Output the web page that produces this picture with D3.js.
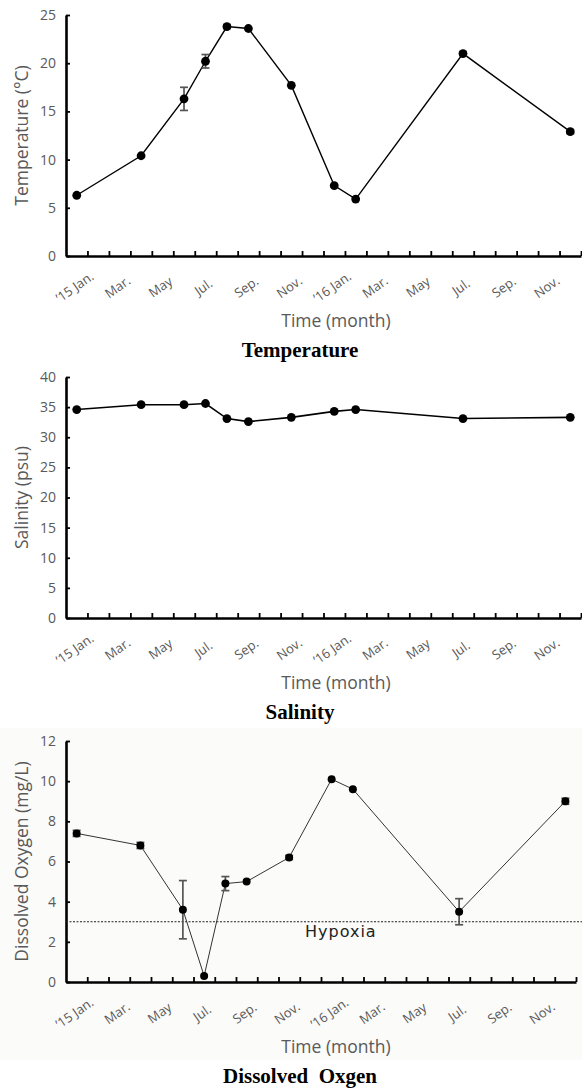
<!DOCTYPE html>
<html>
<head>
<meta charset="utf-8">
<script src="https://d3js.org/d3.v7.min.js"></script>
<style>
  body { margin: 0; background: #fff; }
  svg text { font-family: "Open Sans", sans-serif; }
</style>
</head>
<body>
<svg id="chart" width="582" height="1090"></svg>
<script>

// sampling months (one point per cruise) and axis labels
var sampleMonths = ["2015-01","2015-04","2015-06","2015-07","2015-08","2015-09","2015-11","2016-01","2016-02","2016-07","2016-12"];
var monthLabels = ["\u201915 Jan.","Mar.","May","Jul.","Sep.","Nov.","\u201916 Jan.","Mar.","May","Jul.","Sep.","Nov."];

var temperature   = [6.3, 10.4, 16.3, 20.2, 23.8, 23.6, 17.7, 7.3, 5.9, 21.0, 12.9];
var temperatureSD = [0, 0, 1.2, 0.7, 0.2, 0, 0, 0, 0, 0.2, 0.2];

var salinity   = [34.6, 35.4, 35.4, 35.6, 33.1, 32.6, 33.3, 34.3, 34.6, 33.1, 33.3];
var salinitySD = [0, 0, 0, 0, 0, 0, 0, 0, 0, 0, 0];

var oxygen   = [7.4, 6.8, 3.6, 0.3, 4.9, 5.0, 6.2, 10.1, 9.6, 3.5, 9.0];
var oxygenSD = [0.15, 0.15, 1.45, 0, 0.35, 0, 0.1, 0, 0, 0.65, 0.15];
var hypoxiaLevel = 3;

var svg = d3.select('#chart');

function monthIndex(s) {
  var p = s.split('-');
  return (+p[0] - 2015) * 12 + (+p[1] - 1);
}

function drawPanel(cfg) {
  var g = svg.append('g');

  if (cfg.bg) {
    g.append('rect').attr('x', 0).attr('y', cfg.bgTop).attr('width', 582).attr('height', cfg.bgH)
      .style('fill', cfg.bg);
  }

  var x = d3.scaleLinear().domain([0, 24]).range([66, cfg.right]);
  var y = d3.scaleLinear().domain([0, cfg.max]).range([cfg.bottom, cfg.top]);

  var data = sampleMonths.map(function(m, i) {
    return { m: monthIndex(m) + 0.5, v: cfg.values[i], sd: cfg.sd[i] };
  });

  // x axis, ticks between months
  var xa = g.append('g').attr('transform', 'translate(0,' + cfg.bottom + ')')
    .call(d3.axisBottom(x).tickValues(d3.range(1, 25)).tickSize(-5).tickSizeOuter(0).tickFormat(''));
  xa.select('.domain').attr('stroke', '#000').attr('stroke-width', 2.6);
  xa.selectAll('.tick line').attr('stroke', '#000').attr('stroke-width', 1.8);

  // y axis
  var ya = g.append('g').attr('transform', 'translate(66,0)')
    .call(d3.axisLeft(y).ticks(cfg.max / cfg.step).tickSize(-4).tickSizeOuter(0).tickPadding(10));
  ya.select('.domain').attr('stroke', '#000').attr('stroke-width', 2.6);
  ya.selectAll('.tick line').attr('stroke', '#000').attr('stroke-width', 1.8);
  ya.selectAll('.tick text').attr('font-size', 14).attr('fill', '#595959')
    .attr('font-family', '"Open Sans", sans-serif');

  // month labels
  g.selectAll('.mlab').data(monthLabels).enter().append('text')
    .attr('class', 'mlab')
    .attr('transform', function(d, i) { return 'translate(' + (x(i * 2 + 0.5) - 2) + ',' + (cfg.bottom + 31) + ') rotate(-35)'; })
    .attr('text-anchor', 'middle').attr('dy', '0.35em')
    .style('font-size', '13px').style('fill', '#595959')
    .text(function(d) { return d; });

  // hypoxia reference
  if (cfg.hypoxia != null) {
    g.append('line').attr('x1', 66).attr('x2', 582)
      .attr('y1', y(cfg.hypoxia)).attr('y2', y(cfg.hypoxia))
      .style('stroke', '#222').style('stroke-width', 1.2).style('stroke-dasharray', '2,1.5');
    g.append('text').attr('x', 305).attr('y', y(cfg.hypoxia) + 15)
      .style('font-size', '16px').style('letter-spacing', '1px').style('fill', '#222')
      .style('font-family', '"DejaVu Sans", sans-serif')
      .text('Hypoxia');
  }

  // line
  var line = d3.line().x(function(d) { return x(d.m); }).y(function(d) { return y(d.v); });
  g.append('path').datum(data).attr('d', line)
    .style('fill', 'none').style('stroke', cfg.lineColor).style('stroke-width', cfg.lineW);

  // error bars
  var eb = g.selectAll('.eb').data(data.filter(function(d) { return d.sd > 0; })).enter().append('g')
    .style('stroke', '#555').style('stroke-width', 1.7);
  eb.append('line').attr('x1', function(d) { return x(d.m); }).attr('x2', function(d) { return x(d.m); })
    .attr('y1', function(d) { return y(d.v + d.sd); }).attr('y2', function(d) { return y(d.v - d.sd); });
  eb.append('line').attr('x1', function(d) { return x(d.m) - 4; }).attr('x2', function(d) { return x(d.m) + 4; })
    .attr('y1', function(d) { return y(d.v + d.sd); }).attr('y2', function(d) { return y(d.v + d.sd); });
  eb.append('line').attr('x1', function(d) { return x(d.m) - 4; }).attr('x2', function(d) { return x(d.m) + 4; })
    .attr('y1', function(d) { return y(d.v - d.sd); }).attr('y2', function(d) { return y(d.v - d.sd); });

  // points
  g.selectAll('.pt').data(data).enter().append('circle')
    .attr('cx', function(d) { return x(d.m); }).attr('cy', function(d) { return y(d.v); })
    .attr('r', cfg.r).style('fill', '#000');

  // y title
  g.append('text')
    .attr('transform', 'translate(' + cfg.yTitleX + ',' + ((cfg.top + cfg.bottom) / 2) + ') rotate(-90)')
    .attr('text-anchor', 'middle')
    .style('font-size', '17.5px').style('fill', '#595959')
    .text(cfg.yTitle);

  // x title
  g.append('text').attr('x', 336).attr('y', cfg.bottom + 71).attr('text-anchor', 'middle')
    .style('font-size', '17.5px').style('fill', '#595959')
    .text('Time (month)');

  // panel caption
  g.append('text').attr('x', 300).attr('y', cfg.bottom + 101).attr('text-anchor', 'middle')
    .style('font-family', '"Liberation Serif", serif').style('font-weight', 'bold')
    .style('font-size', '21px').style('fill', '#000')
    .text(cfg.caption);
}

drawPanel({ top: 15, bottom: 256, right: 581, max: 25, step: 5, values: temperature, sd: temperatureSD,
  r: 4.4, lineColor: '#000', lineW: 1.4, yTitle: 'Temperature (\u00B0C)', yTitleX: 28, caption: 'Temperature' });

drawPanel({ top: 377, bottom: 618, right: 581, max: 40, step: 5, values: salinity, sd: salinitySD,
  r: 4.4, lineColor: '#000', lineW: 1.6, yTitle: 'Salinity (psu)', yTitleX: 28, caption: 'Salinity' });

drawPanel({ top: 741, bottom: 982, right: 576, max: 12, step: 2, values: oxygen, sd: oxygenSD,
  r: 4, lineColor: '#333', lineW: 1, yTitle: 'Dissolved Oxygen (mg/L)', yTitleX: 28, caption: 'Dissolved\u00A0 Oxgen',
  hypoxia: hypoxiaLevel, bg: '#fbfbf9', bgTop: 728, bgH: 332 });

</script>
</body>
</html>
